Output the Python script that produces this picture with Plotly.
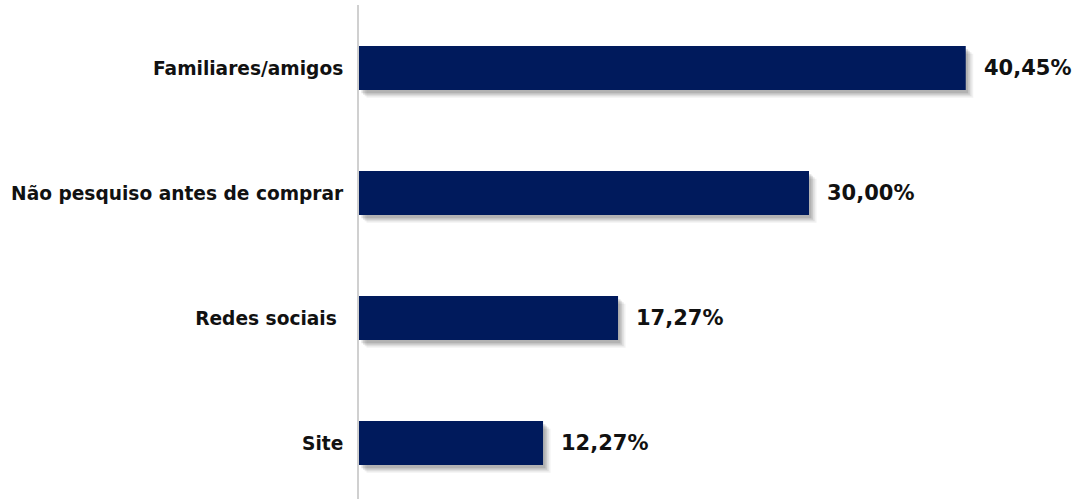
import plotly.graph_objects as go

categorias = ["Familiares/amigos", "Não pesquiso antes de comprar", "Redes sociais ", "Site"]
percentuais = [40.45, 30.00, 17.27, 12.27]
rotulos = ["40,45%", "30,00%", "17,27%", "12,27%"]

posicoes = list(range(len(categorias)))
azul = "#001a5c"
largura = 0.352

fig = go.Figure()

# soft drop shadow under each bar (a few translucent layers offset down-right)
for dx, dy, alpha in [(0.50, 0.062, 0.07), (0.38, 0.050, 0.10), (0.27, 0.038, 0.13), (0.16, 0.026, 0.16)]:
    fig.add_trace(go.Bar(
        y=[p + dy for p in posicoes], x=percentuais, base=dx, orientation="h",
        width=largura, marker=dict(color=f"rgba(60,60,60,{alpha})", line=dict(width=0)),
        hoverinfo="skip", showlegend=False,
    ))

fig.add_trace(go.Bar(
    y=posicoes, x=percentuais, orientation="h", width=largura,
    marker=dict(color=azul, line=dict(width=0)), showlegend=False,
))

for p, v, t in zip(posicoes, percentuais, rotulos):
    fig.add_annotation(x=v, y=p, text=t, showarrow=False, xanchor="left", xshift=16,
                       font=dict(family="DejaVu Sans", size=21, color="#111111", weight="bold"))

fig.update_layout(
    width=1080, height=499, barmode="overlay",
    margin=dict(l=359, r=1, t=5, b=0),
    paper_bgcolor="white", plot_bgcolor="white",
    xaxis=dict(range=[0, 48], visible=False, fixedrange=True),
    yaxis=dict(range=[3.448, -0.504], tickvals=posicoes, ticktext=categorias,
               showgrid=False, zeroline=False, ticks="", ticklabelstandoff=10,
               showline=True, linecolor="#d0d0d0", linewidth=2,
               tickfont=dict(family="DejaVu Sans", size=18.6, color="#111111", weight="bold")),
)

fig.write_html("out.html")
